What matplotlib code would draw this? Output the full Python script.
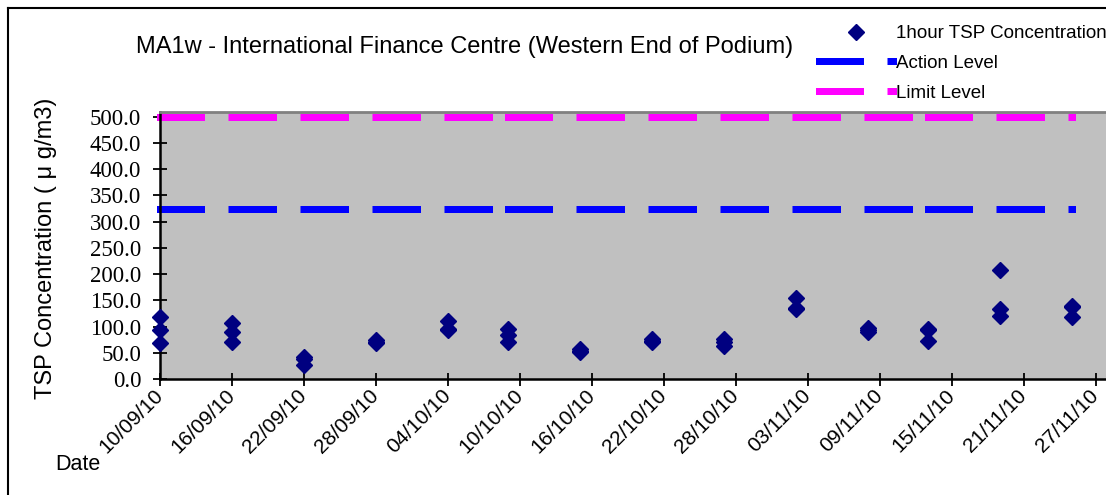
import numpy as np
import matplotlib
matplotlib.use("Agg")
import matplotlib.pyplot as plt
import matplotlib.dates as mdates
from matplotlib.lines import Line2D

# sampling days and the three 1-hour TSP readings of each day
tsp_dates = np.array(['2010-09-10', '2010-09-16', '2010-09-22', '2010-09-28',
                      '2010-10-04', '2010-10-09', '2010-10-15', '2010-10-21',
                      '2010-10-27', '2010-11-02', '2010-11-08', '2010-11-13',
                      '2010-11-19', '2010-11-25'], dtype='datetime64[D]')
tsp_1 = [119, 106, 41, 74, 111, 95, 57, 76, 77, 155, 97, 96, 208, 140]
tsp_2 = [94, 89, 39, 70, 95, 83, 54, 73, 70, 136, 93, 94, 134, 137]
tsp_3 = [69, 70, 27, 68, 93, 70, 51, 71, 62, 133, 89, 72, 121, 119]

action_level = 325.0
limit_level = 500.0

tick_dates = np.arange(np.datetime64('2010-09-10'), np.datetime64('2010-12-01'),
                       np.timedelta64(6, 'D'))
y_ticks = np.arange(0, 501, 50)

W, H, DPI = 1106, 495, 100
fig = plt.figure(figsize=(W / DPI, H / DPI), dpi=DPI)
plt.rcParams['lines.scale_dashes'] = False

px = 72.0 / DPI  # points per pixel
ax = fig.add_axes([160 / W, (H - 379) / H, (1112 - 160) / W, (379 - 112) / H])
ax.set_facecolor('#c0c0c0')

x = mdates.date2num(tsp_dates.astype('datetime64[s]').astype(object))
ticks_x = mdates.date2num(tick_dates.astype('datetime64[s]').astype(object))

lw = 7 * px
dash = (41 * px, 30.5 * px)
# Excel restarts the dash pattern on every segment between points
for level, col in [(action_level, '#0000ff'), (limit_level, '#ff00ff')]:
    for i in range(len(x) - 1):
        ax.plot([x[i], x[i + 1]], [level, level], color=col, lw=lw,
                dashes=dash, dash_capstyle='projecting', clip_on=False, zorder=2)

for vals in (tsp_1, tsp_2, tsp_3):
    ax.plot(x, vals, linestyle='none', marker='D', markersize=7.8,
            color='#000080', zorder=3, clip_on=False)

ax.set_xlim(x[0], x[0] + (1112 - 160) / 12.0)
ax.set_ylim(0, 509)
ax.set_xticks(ticks_x)
ax.set_xticklabels([mdates.num2date(t).strftime('%d/%m/%y') for t in ticks_x],
                   rotation=45, ha='right', va='center', rotation_mode='anchor',
                   fontsize=15, family='Liberation Sans')
ax.set_yticks(y_ticks)
ax.set_yticklabels(['%.1f' % v for v in y_ticks], fontsize=16.5,
                   family='Liberation Serif')
ax.tick_params(axis='x', direction='inout', length=13 * px, width=1.3, pad=5)
ax.tick_params(axis='y', direction='inout', length=14 * px, width=1.3, pad=8.5)

for s in ('left', 'bottom'):
    ax.spines[s].set_color('black')
    ax.spines[s].set_linewidth(1.8)
ax.spines['top'].set_color('#808080')
ax.spines['top'].set_linewidth(2)
ax.spines['right'].set_visible(False)

fig.text(465 / W, 1 - 47 / H, 'MA1w - International Finance Centre (Western End of Podium)',
         ha='center', va='center', fontsize=17, family='Liberation Sans')
fig.text(46 / W, 1 - 248 / H, 'TSP Concentration ( μ g/m3)', rotation=90,
         ha='center', va='center', fontsize=17, family='Liberation Sans')
fig.text(78 / W, 1 - 465 / H, 'Date', ha='center', va='center', fontsize=15.5,
         family='Liberation Sans')

handles = [
    Line2D([], [], linestyle='none', marker='D', markersize=7.8, color='#000080'),
    Line2D([], [], color='#0000ff', lw=lw, dashes=dash, dash_capstyle='projecting'),
    Line2D([], [], color='#ff00ff', lw=lw, dashes=dash, dash_capstyle='projecting'),
]
labels = ['1hour TSP Concentration', 'Action Level', 'Limit Level']
fsz = 13.5
fig.legend(handles, labels, loc='upper left', bbox_to_anchor=(818.5 / W, 1 - 25 / H),
           frameon=False, prop={'family': 'Liberation Sans', 'size': fsz},
           handlelength=74 * px / fsz, handletextpad=0.19, labelspacing=0.67,
           borderpad=0, borderaxespad=0)

# chart frame (cropped on the right and bottom)
fig.add_artist(Line2D([8 / W, 8 / W], [0, 1 - 8 / H], color='black', lw=1.5,
                      transform=fig.transFigure))
fig.add_artist(Line2D([8 / W, 1], [1 - 8 / H, 1 - 8 / H], color='black', lw=1.5,
                      transform=fig.transFigure))

fig.savefig('out.png', dpi=DPI)
